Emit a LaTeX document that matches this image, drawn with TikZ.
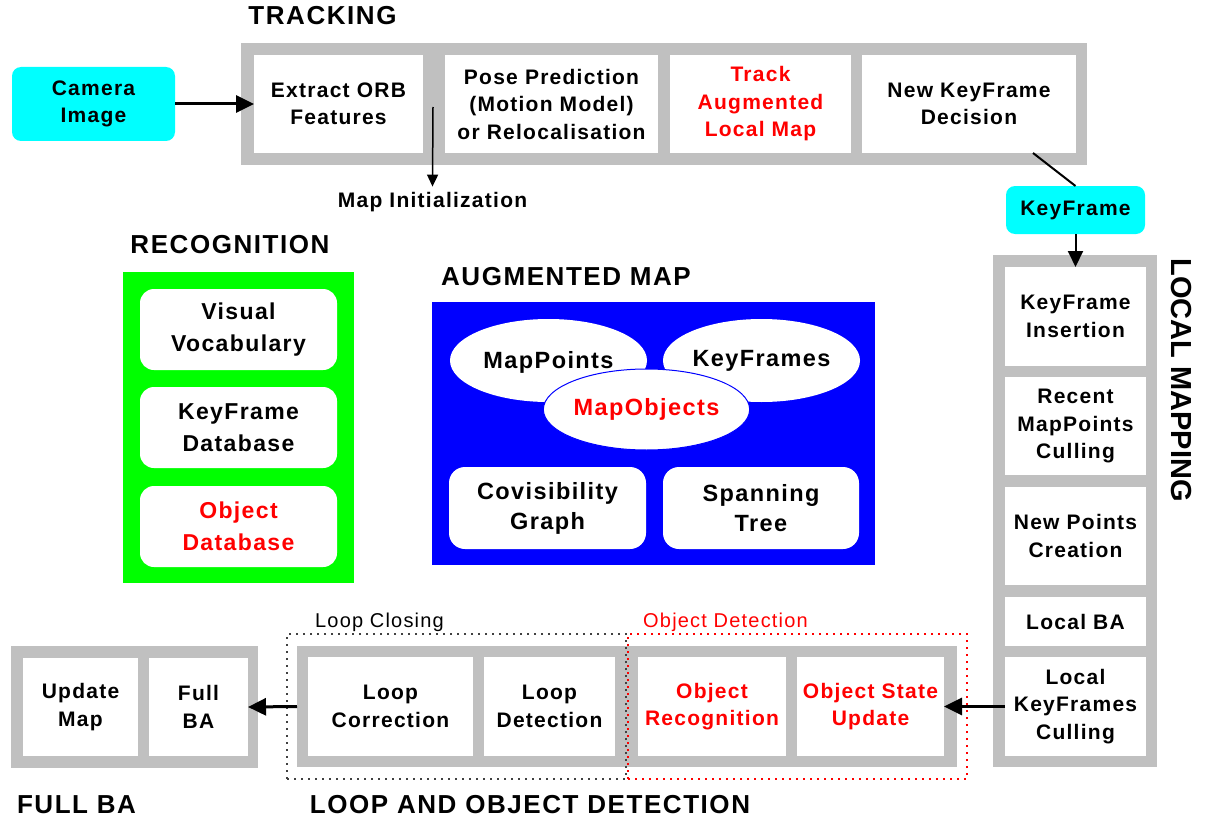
\documentclass[tikz,border=0pt]{standalone}
\usepackage{fontspec}
\setmainfont{Liberation Sans}[LetterSpace=6]
\usetikzlibrary{arrows.meta,shapes.geometric,calc}

\definecolor{frameGray}{HTML}{C0C0C0}
\definecolor{camCyan}{HTML}{00FFFF}
\definecolor{recGreen}{HTML}{00FF00}
\definecolor{mapBlue}{HTML}{0000FF}
\definecolor{hotRed}{HTML}{FF0000}
\definecolor{dotGray}{HTML}{404040}

\newcommand\ttlfont{\fontsize{26}{30}\selectfont\bfseries}
\newcommand\sidettlfont{\fontsize{29}{32}\selectfont\bfseries\addfontfeatures{LetterSpace=0}}
\newcommand\stepfont{\fontsize{21}{27.5}\selectfont\bfseries}
\newcommand\recfont{\fontsize{23}{32}\selectfont\bfseries}
\newcommand\augfont{\fontsize{23.5}{30}\selectfont\bfseries}
\newcommand\notefont{\fontsize{20}{24}\selectfont}

\tikzset{
  frame/.style={fill=frameGray, inner sep=0pt, outer sep=0pt},
  stepbox/.style={fill=white, inner sep=0pt, outer sep=0pt, align=center,
                  font=\stepfont, text=black, minimum height=98pt},
  hot/.style={text=hotRed},
  ttl/.style={font=\ttlfont, inner sep=0pt, outer sep=0pt},
  cyanbox/.style={fill=camCyan, rounded corners=9pt, inner sep=0pt, outer sep=0pt,
                  align=center, font=\stepfont},
  store/.style={fill=white, rounded corners=14pt, inner sep=0pt, outer sep=0pt,
                align=center},
  blob/.style={ellipse, fill=white, inner sep=0pt, outer sep=0pt, font=\augfont},
  dotbox/.style={line width=1.5pt, dash pattern=on 1.8pt off 5.2pt,
                 inner sep=0pt, outer sep=0pt},
  bigarrow/.style={line width=3pt, -{Triangle[length=18pt,width=17pt]}},
  midarrow/.style={line width=2pt, -{Triangle[length=16pt,width=15pt]}},
  thinarrow/.style={line width=1.5pt, -{Triangle[length=12pt,width=11pt]}},
}

\begin{document}
\begin{tikzpicture}[x=1pt, y=-1pt]
\useasboundingbox (0,0) rectangle (1213,824);

% ---------------- Tracking ----------------
\node[ttl] (trkttl) at (322.5,16) {TRACKING};
\node[cyanbox, minimum width=163pt, minimum height=74pt] (cam) at (93.5,104)
  {Camera\\Image};
\node[frame, minimum width=846pt, minimum height=122pt] (trk) at (664,104) {};
\node[stepbox, minimum width=169pt] (orb) at (338.5,104) {Extract ORB\\Features};
\node[stepbox, minimum width=213pt] (pose) at (551.5,104)
  {Pose Prediction\\(Motion Model)\\or Relocalisation};
\node[stepbox, hot, minimum width=181pt] (track) at (760.5,104)
  {Track\\Augmented\\Local Map};
\node[stepbox, minimum width=214pt] (nkf) at (969,104) {New KeyFrame\\Decision};

\coordinate (mistart) at (433,107);
\node[font=\stepfont, anchor=base, inner sep=5pt] (mapinit) at (432.5,207)
  {Map Initialization};

\draw[bigarrow] (cam.east) -- (orb.west);
\draw[thinarrow] (mistart) -- (mapinit.north);

% ---------------- KeyFrame hand-over ----------------
\node[cyanbox, minimum width=139pt, minimum height=48pt] (kf) at (1075.5,210)
  {KeyFrame};
\draw[line width=2pt] ($(nkf.south east)+(-43,0)$) -- (kf.north);

% ---------------- Local mapping ----------------
\node[frame, minimum width=164pt, minimum height=512pt] (lm) at (1075,511) {};
\node[stepbox, minimum width=141pt, minimum height=99pt] (lm1) at (1075.5,316.5)
  {KeyFrame\\Insertion};
\node[stepbox, minimum width=141pt, minimum height=98pt] (lm2) at (1075.5,426)
  {Recent\\MapPoints\\Culling};
\node[stepbox, minimum width=141pt, minimum height=98pt] (lm3) at (1075.5,536)
  {New Points\\Creation};
\node[stepbox, minimum width=141pt, minimum height=49pt] (lm4) at (1075.5,621.5)
  {Local BA};
\node[stepbox, minimum width=141pt, minimum height=99pt] (lm5) at (1075.5,706.5)
  {Local\\KeyFrames\\Culling};
\node[font=\sidettlfont, inner sep=0pt, rotate=-90] (lmttl) at (1181,380)
  {LOCAL MAPPING};

\draw[midarrow] (kf.south) -- (lm1.north);

% ---------------- Recognition ----------------
\node[ttl] (recttl) at (230,245) {RECOGNITION};
\node[fill=recGreen, minimum width=231pt, minimum height=311pt, inner sep=0pt]
  (rec) at (238.5,427.5) {};
\node[store, font=\recfont, minimum width=197pt, minimum height=81pt] (vv)
  at (238.5,329.5) {Visual\\Vocabulary};
\node[store, font=\recfont, minimum width=197pt, minimum height=81pt] (kfdb)
  at (238.5,427.5) {KeyFrame\\Database};
\node[store, font=\recfont, hot, minimum width=197pt, minimum height=81pt] (objdb)
  at (238.5,526.5) {Object\\Database};

% ---------------- Augmented map ----------------
\node[ttl] (augttl) at (566,277) {AUGMENTED MAP};
\node[fill=mapBlue, minimum width=443pt, minimum height=263pt, inner sep=0pt]
  (aug) at (653.5,433.5) {};
\node[blob, minimum width=197pt, minimum height=83pt] (mp) at (548.5,360.5) {};
\node[blob, minimum width=197pt, minimum height=83pt] (kfs) at (761.5,360.5)
  {KeyFrames};
\node[font=\augfont, anchor=base] (mptext) at (548.5,368.5) {MapPoints};
\node[blob, draw=mapBlue, line width=1pt, hot, minimum width=195pt,
  minimum height=81pt] (mo) at (646.5,409.5) {MapObjects};
\node[store, font=\augfont, rounded corners=16pt, minimum width=197pt,
  minimum height=82pt] (cov) at (547.5,508) {Covisibility\\Graph};
\node[store, font=\augfont, rounded corners=16pt, minimum width=196pt,
  minimum height=82pt] (span) at (761,508) {Spanning\\Tree};

% ---------------- Full BA ----------------
\node[frame, minimum width=247pt, minimum height=122pt] (fbaf) at (134.5,707) {};
\node[stepbox, minimum width=115pt] (um) at (80.5,707) {Update\\Map};
\node[stepbox, minimum width=99pt] (fba) at (198.5,707) {Full\\BA};
\node[ttl] (fbattl) at (76.5,805) {FULL BA};

% ---------------- Loop closing and object detection ----------------
\node[frame, minimum width=660pt, minimum height=121pt] (lo) at (627,706.5) {};
\node[stepbox, minimum width=165pt, minimum height=99pt] (lc) at (390.5,706.5)
  {Loop\\Correction};
\node[stepbox, minimum width=131pt, minimum height=99pt] (ld) at (549.5,706.5)
  {Loop\\Detection};
\node[stepbox, hot, minimum width=148pt, minimum height=99pt] (orec) at (712,706.5)
  {Object\\Recognition};
\node[stepbox, hot, minimum width=147pt, minimum height=99pt] (osu) at (870.5,706.5)
  {Object State\\Update};

\node[dotbox, draw=dotGray, minimum width=339pt, minimum height=145pt] (lcdots)
  at (456.5,706.5) {};
\node[dotbox, draw=hotRed, minimum width=339pt, minimum height=145pt] (oddots)
  at (797.5,706.5) {};
\node[font=\notefont, anchor=base, inner sep=0pt] (lcnote) at (379.5,627)
  {Loop Closing};
\node[font=\notefont, text=hotRed, anchor=base, inner sep=0pt] (odnote)
  at (725.5,627) {Object Detection};
\node[ttl] (lottl) at (530,805) {LOOP AND OBJECT DETECTION};

\draw[bigarrow] (lm5.west) -- (osu.east);
\draw[bigarrow] (lo.west) -- (fba.east);

\end{tikzpicture}
\end{document}
